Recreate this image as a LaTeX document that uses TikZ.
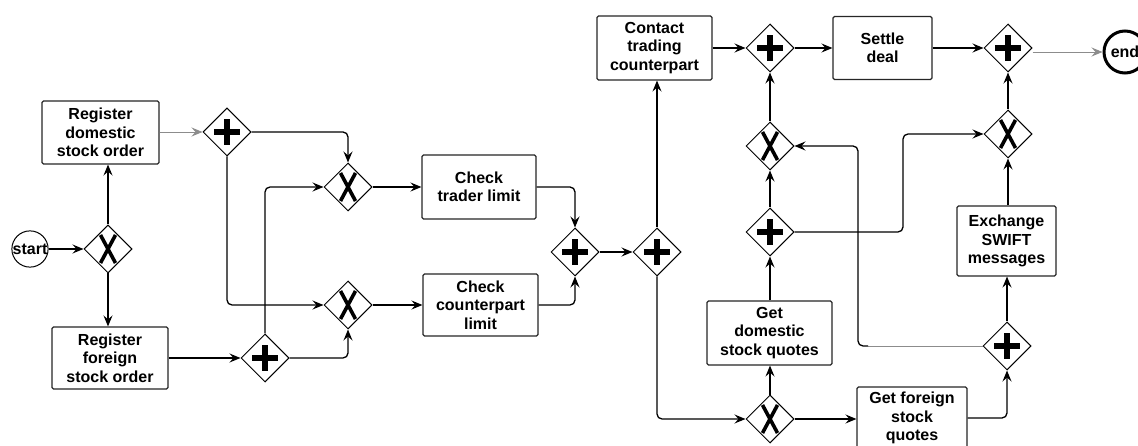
\documentclass[tikz,border=0pt]{standalone}
\usepackage{fontspec}
\setmainfont{Liberation Sans}
\usetikzlibrary{shapes.geometric,arrows.meta}

\tikzset{
  txt/.style={font=\fontsize{16pt}{18.5pt}\selectfont\bfseries, align=center},
  task/.style={txt, draw=black!85, line width=1.1pt, rounded corners=1.5pt,
               inner sep=0pt, fill=white},
  gw/.style={shape=diamond, draw, line width=1pt, fill=white, inner sep=0pt,
             minimum width=48pt, minimum height=48pt},
  andgw/.style={gw, path picture={
      \fill[black] ([shift={(-13pt,-3pt)}]path picture bounding box.center) rectangle ++(26pt,6pt);
      \fill[black] ([shift={(-3pt,-13pt)}]path picture bounding box.center) rectangle ++(6pt,26pt);}},
  xorgw/.style={gw, path picture={
      \draw[black, line width=3.6pt]
        ([shift={(-7.5pt,-14pt)}]path picture bounding box.center) -- ++(15pt,28pt)
        ([shift={(7.5pt,-14pt)}]path picture bounding box.center) -- ++(-15pt,28pt);}},
  flow/.style={line width=1.3pt, rounded corners=5pt,
               -{Stealth[length=11pt,width=9pt,inset=4pt]}},
  lightflow/.style={flow, line width=0.9pt, draw=black!45},
  event/.style={txt, shape=circle, draw, inner sep=0pt, fill=white},
}

\begin{document}
\begin{tikzpicture}[x=1pt,y=-1pt]
\useasboundingbox (0,0) rectangle (1138,446);

% events
\node[event, line width=1pt, minimum size=36pt] (start) at (30,249) {start};
\node[event, line width=3pt, minimum size=42pt] (end) at (1125,52) {end};

% tasks
\node[task, minimum width=117pt, minimum height=63pt] (dom)     at (100.5,132.5) {Register\\domestic\\stock order};
\node[task, minimum width=116pt, minimum height=62pt] (for)     at (110,358)     {Register\\foreign\\stock order};
\node[task, minimum width=114pt, minimum height=64pt] (trader)  at (479,187)     {Check\\trader limit};
\node[task, minimum width=115pt, minimum height=62pt] (cp)      at (480.5,305)   {Check\\counterpart\\limit};
\node[task, minimum width=115pt, minimum height=64pt] (contact) at (654.5,48)    {Contact\\trading\\counterpart};
\node[task, minimum width=99pt,  minimum height=63pt] (settle)  at (882.5,48)    {Settle\\deal};
\node[task, minimum width=99pt,  minimum height=70pt] (exch)    at (1006.5,241)  {Exchange\\SWIFT\\messages};
\node[task, minimum width=125pt, minimum height=64pt] (domq)    at (769.5,333)   {Get\\domestic\\stock quotes};
\node[task, minimum width=110pt, minimum height=62pt] (forq)    at (912,418)     {Get foreign\\stock\\quotes};

% gateways
\node[xorgw] (x1) at (108,249) {};
\node[andgw] (p1) at (227,132) {};
\node[andgw] (p2) at (265,358) {};
\node[xorgw] (x2) at (348,187) {};
\node[xorgw] (x3) at (348,305) {};
\node[andgw] (p3) at (575,252) {};
\node[andgw] (p4) at (657,252) {};
\node[andgw] (p5) at (770,48)  {};
\node[xorgw] (x4) at (770,146) {};
\node[andgw] (p6) at (770,232) {};
\node[xorgw] (x6) at (770,419) {};
\node[andgw] (p8) at (1008,48) {};
\node[xorgw] (x5) at (1008,134) {};
\node[andgw] (p7) at (1007,346) {};

% routing points
\coordinate (jog)   at (903,0);
\coordinate (back)  at (868,346);
\coordinate (loopx) at (858,0);

% order registration
\draw[flow] (start) -- (x1.west);
\draw[flow] (x1.north) -- (x1.north |- dom.south);
\draw[flow] (x1.south) -- (x1.south |- for.north);
\draw[lightflow] (dom.east |- p1) -- (p1.west);
\draw[flow] (p1.east) -| (x2.north);
\draw[flow] (p1.south) |- (x3.west);
\draw[flow] (for.east) -- (p2.west);
\draw[flow] (p2.north) |- (x2.west);
\draw[flow] (p2.east) -| (x3.south);

% limit checks
\draw[flow] (x2.east) -- (trader.west);
\draw[flow] (x3.east) -- (cp.west);
\draw[flow] (trader.east) -| (p3.north);
\draw[flow] (cp.east) -| (p3.south);
\draw[flow] (p3.east) -- (p4.west);

% trading and quotes
\draw[flow] (p4.north) -- (p4.north |- contact.south);
\draw[flow] (p4.south) |- (x6.west);
\draw[flow] (contact.east |- p5) -- (p5.west);
\draw[flow] (p5.east) -- (settle.west |- p5);
\draw[flow] (x6.north) -- (x6.north |- domq.south);
\draw[flow] (domq.north -| p6) -- (p6.south);
\draw[flow] (p6.north) -- (x4.south);
\draw[flow] (x4.north) -- (p5.south);
\draw[flow] (x6.east) -- (forq.west |- x6);
\draw[flow] (forq.east) -| (p7.south);
\draw[flow] (p7.north) -- (p7.north |- exch.south);
\draw[flow] (x5.south |- exch.north) -- (x5.south);
\draw[flow] (p6.east) -- (p6.east -| jog) |- (x5.west);
\draw[line width=0.9pt, draw=black!45] (p7.west) -- (back);
\draw[flow] (back) -- (back -| loopx) -- (loopx |- x4.east) -- (x4.east);

% settlement
\draw[flow] (settle.east |- p8) -- (p8.west);
\draw[flow] (x5.north) -- (p8.south);
\draw[lightflow] (p8.east |- end) -- (end.west);
\end{tikzpicture}
\end{document}
